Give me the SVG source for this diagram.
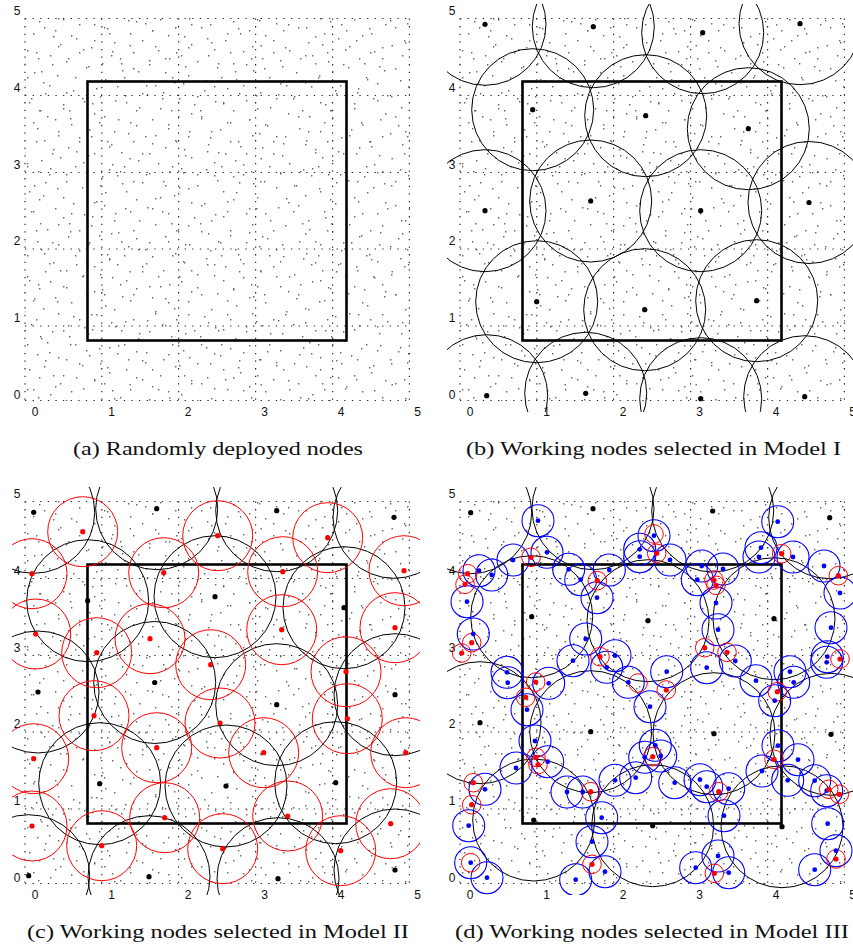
<svg xmlns="http://www.w3.org/2000/svg" xmlns:xlink="http://www.w3.org/1999/xlink" width="853" height="944" viewBox="0 0 853 944">
<style>
.g{fill:none;stroke:#222;stroke-width:1.2;stroke-dasharray:1.3 6.3}
.sq{fill:none;stroke:#000;stroke-width:2.6}
.t{font-family:"Liberation Sans",Arial,sans-serif;font-size:12px;fill:#111;text-anchor:middle}
.cap{font-family:"Liberation Serif","Times New Roman",serif;font-size:18.5px;fill:#111;text-anchor:middle}
.k circle{fill:none;stroke:#000;stroke-width:1}
.r circle{fill:none;stroke:#f00;stroke-width:1}
.b circle{fill:none;stroke:#00f;stroke-width:1.1}
.kd circle{fill:#000}
.rd circle{fill:#f00}
.bd circle{fill:#00f}
</style>
<defs>
<pattern id="pA" width="97" height="89" patternUnits="userSpaceOnUse">
<path fill="#666" d="M3 7h1.4v1.4h-1.4zM17 42h1.4v1.4h-1.4zM29 13h1.4v1.4h-1.4zM41 71h1.4v1.4h-1.4zM55 30h1.4v1.4h-1.4zM68 58h1.4v1.4h-1.4zM82 9h1.4v1.4h-1.4zM91 47h1.4v1.4h-1.4zM12 80h1.4v1.4h-1.4zM36 52h1.4v1.4h-1.4zM49 85h1.4v1.4h-1.4zM63 19h1.4v1.4h-1.4zM75 77h1.4v1.4h-1.4zM88 66h1.4v1.4h-1.4zM7 27h1.4v1.4h-1.4zM24 63h1.4v1.4h-1.4zM45 4h1.4v1.4h-1.4zM58 46h1.4v1.4h-1.4zM71 35h1.4v1.4h-1.4zM94 24h1.4v1.4h-1.4zM20 86h1.4v1.4h-1.4zM33 33h1.4v1.4h-1.4zM52 64h1.4v1.4h-1.4zM79 52h1.4v1.4h-1.4zM86 83h1.4v1.4h-1.4zM14 55h1.4v1.4h-1.4zM39 21h1.4v1.4h-1.4zM66 3h1.4v1.4h-1.4zM27 77h1.4v1.4h-1.4z"/>
</pattern>
<pattern id="pB" width="131" height="113" patternUnits="userSpaceOnUse">
<path fill="#666" d="M5 12h1.4v1.4h-1.4zM18 60h1.4v1.4h-1.4zM31 98h1.4v1.4h-1.4zM44 27h1.4v1.4h-1.4zM57 75h1.4v1.4h-1.4zM70 5h1.4v1.4h-1.4zM83 49h1.4v1.4h-1.4zM96 88h1.4v1.4h-1.4zM109 33h1.4v1.4h-1.4zM122 70h1.4v1.4h-1.4zM11 40h1.4v1.4h-1.4zM24 85h1.4v1.4h-1.4zM37 15h1.4v1.4h-1.4zM50 55h1.4v1.4h-1.4zM63 104h1.4v1.4h-1.4zM76 38h1.4v1.4h-1.4zM89 16h1.4v1.4h-1.4zM102 63h1.4v1.4h-1.4zM115 100h1.4v1.4h-1.4zM128 20h1.4v1.4h-1.4zM8 107h1.4v1.4h-1.4zM21 30h1.4v1.4h-1.4zM34 72h1.4v1.4h-1.4zM47 3h1.4v1.4h-1.4zM60 44h1.4v1.4h-1.4zM73 90h1.4v1.4h-1.4zM86 67h1.4v1.4h-1.4zM99 9h1.4v1.4h-1.4zM112 51h1.4v1.4h-1.4zM125 95h1.4v1.4h-1.4zM14 23h1.4v1.4h-1.4zM27 50h1.4v1.4h-1.4zM40 110h1.4v1.4h-1.4zM53 36h1.4v1.4h-1.4zM66 61h1.4v1.4h-1.4zM79 24h1.4v1.4h-1.4zM92 103h1.4v1.4h-1.4zM105 79h1.4v1.4h-1.4zM118 6h1.4v1.4h-1.4zM129.5 45h1.4v1.4h-1.4zM2 68h1.4v1.4h-1.4zM16 94h1.4v1.4h-1.4zM43 82h1.4v1.4h-1.4zM69 110h1.4v1.4h-1.4zM94 40h1.4v1.4h-1.4zM120 58h1.4v1.4h-1.4zM58 18h1.4v1.4h-1.4zM84 101h1.4v1.4h-1.4zM107 28h1.4v1.4h-1.4zM38 58h1.4v1.4h-1.4z"/>
</pattern>
<clipPath id="clip"><rect x="12" y="4" width="408" height="408"/></clipPath>
<g id="base">
<rect x="25" y="18" width="385" height="383" fill="url(#pA)"/>
<rect x="25" y="18" width="385" height="383" fill="url(#pB)"/>
<path class="g" d="M25 18.5V401M101.8 18.5V401M178.6 18.5V401M255.6 18.5V401M332.6 18.5V401M409.4 18.5V401M25 18.5H410M25 95.5H410M25 172.5H410M25 249H410M25 326H410M25 400.5H410"/>
<rect class="sq" x="87.5" y="81.5" width="259" height="259"/>
<text class="t" x="17" y="14.5">5</text>
<text class="t" x="17" y="92">4</text>
<text class="t" x="17" y="168.5">3</text>
<text class="t" x="17" y="245">2</text>
<text class="t" x="17" y="321.5">1</text>
<text class="t" x="17" y="398.5">0</text>
<text class="t" x="35" y="416">0</text>
<text class="t" x="111.5" y="416">1</text>
<text class="t" x="188" y="416">2</text>
<text class="t" x="264.5" y="416">3</text>
<text class="t" x="341" y="416">4</text>
<text class="t" x="417.5" y="416">5</text>
</g>
</defs>

<g id="panel-a">
<use href="#base"/>
</g>

<g id="panel-b" transform="translate(435,0)">
<use href="#base"/>
<g class="k" clip-path="url(#clip)">
<circle cx="50" cy="24.3" r="61"/><circle cx="158.3" cy="26.7" r="61"/><circle cx="267.7" cy="32.7" r="61"/><circle cx="365" cy="23.7" r="61"/>
<circle cx="97.7" cy="109.7" r="61"/><circle cx="210.7" cy="115.7" r="61"/><circle cx="313.3" cy="128.7" r="61"/>
<circle cx="155.7" cy="201" r="61"/><circle cx="374" cy="202.5" r="61"/><circle cx="50" cy="210.7" r="61"/><circle cx="265.7" cy="210.7" r="61"/>
<circle cx="101.7" cy="301.7" r="61"/><circle cx="209.7" cy="309.7" r="61"/><circle cx="321.7" cy="300.7" r="61"/>
<circle cx="51.7" cy="395.7" r="61"/><circle cx="150.7" cy="393.3" r="61"/><circle cx="265.7" cy="398.7" r="61"/><circle cx="369.7" cy="396.7" r="61"/>
</g>
<g class="kd">
<circle cx="50" cy="24.3" r="2.6"/><circle cx="158.3" cy="26.7" r="2.6"/><circle cx="267.7" cy="32.7" r="2.6"/><circle cx="365" cy="23.7" r="2.6"/>
<circle cx="97.7" cy="109.7" r="2.6"/><circle cx="210.7" cy="115.7" r="2.6"/><circle cx="313.3" cy="128.7" r="2.6"/>
<circle cx="155.7" cy="201" r="2.6"/><circle cx="374" cy="202.5" r="2.6"/><circle cx="50" cy="210.7" r="2.6"/><circle cx="265.7" cy="210.7" r="2.6"/>
<circle cx="101.7" cy="301.7" r="2.6"/><circle cx="209.7" cy="309.7" r="2.6"/><circle cx="321.7" cy="300.7" r="2.6"/>
<circle cx="51.7" cy="395.7" r="2.6"/><circle cx="150.7" cy="393.3" r="2.6"/><circle cx="265.7" cy="398.7" r="2.6"/><circle cx="369.7" cy="396.7" r="2.6"/>
</g>
</g>

<g id="panel-c" transform="translate(0,483)">
<use href="#base"/>
<g clip-path="url(#clip)">
<g class="k">
<circle cx="33.7" cy="29.3" r="61"/><circle cx="156.7" cy="25.7" r="61"/><circle cx="276.7" cy="27.7" r="61"/><circle cx="394" cy="34.3" r="61"/>
<circle cx="87.7" cy="117.7" r="61"/><circle cx="215" cy="113.7" r="61"/><circle cx="344" cy="124.7" r="61"/>
<circle cx="38" cy="209" r="61"/><circle cx="154.7" cy="199.5" r="61"/><circle cx="276.7" cy="221.7" r="61"/><circle cx="395" cy="211.7" r="61"/>
<circle cx="99.7" cy="300.7" r="61"/><circle cx="226" cy="303" r="61"/><circle cx="335.7" cy="299.7" r="61"/>
<circle cx="28.7" cy="392.7" r="61"/><circle cx="149" cy="393.7" r="61"/><circle cx="278" cy="395.7" r="61"/><circle cx="395" cy="387" r="61"/>
</g>
<g class="r">
<circle cx="82.7" cy="48.7" r="35"/><circle cx="217.7" cy="52.7" r="35"/><circle cx="327.7" cy="54.7" r="35"/>
<circle cx="32" cy="90.7" r="35"/><circle cx="163.7" cy="89.7" r="35"/><circle cx="282.7" cy="88.7" r="35"/><circle cx="404" cy="87.7" r="35"/>
<circle cx="35.7" cy="151" r="35"/><circle cx="150" cy="155.7" r="35"/><circle cx="281.7" cy="146.7" r="35"/><circle cx="395" cy="144.7" r="35"/>
<circle cx="96.7" cy="169.7" r="35"/><circle cx="210.7" cy="181.7" r="35"/><circle cx="346" cy="188.7" r="35"/>
<circle cx="94" cy="232.7" r="35"/><circle cx="220" cy="240" r="35"/><circle cx="347.3" cy="235.7" r="35"/>
<circle cx="33.7" cy="275.7" r="35"/><circle cx="156.7" cy="264.7" r="35"/><circle cx="263.7" cy="269.7" r="35"/><circle cx="405.7" cy="269.7" r="35"/>
<circle cx="32" cy="343" r="35"/><circle cx="164.7" cy="334.7" r="35"/><circle cx="287.7" cy="333" r="35"/><circle cx="390.7" cy="340.7" r="35"/>
<circle cx="101.7" cy="362.7" r="35"/><circle cx="222.7" cy="365.7" r="35"/><circle cx="340.7" cy="367.7" r="35"/>
</g>
</g>
<g class="kd">
<circle cx="33.7" cy="29.3" r="2.6"/><circle cx="156.7" cy="25.7" r="2.6"/><circle cx="276.7" cy="27.7" r="2.6"/><circle cx="394" cy="34.3" r="2.6"/>
<circle cx="87.7" cy="117.7" r="2.6"/><circle cx="215" cy="113.7" r="2.6"/><circle cx="344" cy="124.7" r="2.6"/>
<circle cx="38" cy="209" r="2.6"/><circle cx="154.7" cy="199.5" r="2.6"/><circle cx="276.7" cy="221.7" r="2.6"/><circle cx="395" cy="211.7" r="2.6"/>
<circle cx="99.7" cy="300.7" r="2.6"/><circle cx="226" cy="303" r="2.6"/><circle cx="335.7" cy="299.7" r="2.6"/>
<circle cx="28.7" cy="392.7" r="2.6"/><circle cx="149" cy="393.7" r="2.6"/><circle cx="278" cy="395.7" r="2.6"/><circle cx="395" cy="387" r="2.6"/>
</g>
<g class="rd">
<circle cx="82.7" cy="48.7" r="2.6"/><circle cx="217.7" cy="52.7" r="2.6"/><circle cx="327.7" cy="54.7" r="2.6"/>
<circle cx="32" cy="90.7" r="2.6"/><circle cx="163.7" cy="89.7" r="2.6"/><circle cx="282.7" cy="88.7" r="2.6"/><circle cx="404" cy="87.7" r="2.6"/>
<circle cx="35.7" cy="151" r="2.6"/><circle cx="150" cy="155.7" r="2.6"/><circle cx="281.7" cy="146.7" r="2.6"/><circle cx="395" cy="144.7" r="2.6"/>
<circle cx="96.7" cy="169.7" r="2.6"/><circle cx="210.7" cy="181.7" r="2.6"/><circle cx="346" cy="188.7" r="2.6"/>
<circle cx="94" cy="232.7" r="2.6"/><circle cx="220" cy="240" r="2.6"/><circle cx="347.3" cy="235.7" r="2.6"/>
<circle cx="33.7" cy="275.7" r="2.6"/><circle cx="156.7" cy="264.7" r="2.6"/><circle cx="263.7" cy="269.7" r="2.6"/><circle cx="405.7" cy="269.7" r="2.6"/>
<circle cx="32" cy="343" r="2.6"/><circle cx="164.7" cy="334.7" r="2.6"/><circle cx="287.7" cy="333" r="2.6"/><circle cx="390.7" cy="340.7" r="2.6"/>
<circle cx="101.7" cy="362.7" r="2.6"/><circle cx="222.7" cy="365.7" r="2.6"/><circle cx="340.7" cy="367.7" r="2.6"/>
</g>
</g>

<g id="panel-d" transform="translate(435,483)">
<use href="#base"/>
<g clip-path="url(#clip)">
<g class="k">
<circle cx="35.7" cy="29.7" r="61"/><circle cx="158" cy="25.7" r="61"/><circle cx="277.7" cy="28" r="61"/><circle cx="394.7" cy="34.7" r="61"/>
<circle cx="96.7" cy="133.7" r="61"/><circle cx="213" cy="137.7" r="61"/><circle cx="339" cy="135.7" r="61"/>
<circle cx="45" cy="239.7" r="61"/><circle cx="155.7" cy="248.7" r="61"/><circle cx="279" cy="250.7" r="61"/><circle cx="396" cy="251.3" r="61"/>
<circle cx="98.7" cy="337" r="61"/><circle cx="217.7" cy="342.7" r="61"/><circle cx="347" cy="343.7" r="61"/>
</g>
<g class="b">
<circle cx="103" cy="37.7" r="16"/><circle cx="112" cy="69.3" r="16"/><circle cx="78" cy="77" r="16"/><circle cx="56.7" cy="92" r="16"/><circle cx="44" cy="87.7" r="16"/><circle cx="32" cy="118.7" r="16"/><circle cx="38.3" cy="151" r="16"/><circle cx="72" cy="189.3" r="16"/><circle cx="72.7" cy="199.7" r="16"/><circle cx="113.7" cy="200.3" r="16"/><circle cx="133.7" cy="86.3" r="16"/><circle cx="145.7" cy="96.7" r="16"/><circle cx="162" cy="114.7" r="16"/><circle cx="174.3" cy="87" r="16"/><circle cx="204.7" cy="66.3" r="16"/><circle cx="204.7" cy="73.7" r="16"/><circle cx="150.7" cy="156" r="16"/><circle cx="138" cy="177.7" r="16"/><circle cx="180" cy="172.7" r="16"/><circle cx="171.7" cy="184.3" r="16"/><circle cx="193.3" cy="199.3" r="16"/>
<circle cx="219" cy="52.7" r="16"/><circle cx="235" cy="77" r="16"/><circle cx="266.7" cy="83" r="16"/><circle cx="288" cy="86" r="16"/><circle cx="262.3" cy="96.7" r="16"/><circle cx="281" cy="120" r="16"/><circle cx="283" cy="146.7" r="16"/><circle cx="300.3" cy="178" r="16"/><circle cx="271.7" cy="184.7" r="16"/><circle cx="231.7" cy="188.7" r="16"/><circle cx="342.7" cy="38.7" r="16"/><circle cx="326" cy="64.7" r="16"/><circle cx="324" cy="74" r="16"/><circle cx="358" cy="74" r="16"/><circle cx="389" cy="83" r="16"/><circle cx="405" cy="110" r="16"/><circle cx="396" cy="144.7" r="16"/><circle cx="392.3" cy="173.7" r="16"/><circle cx="391.7" cy="179.3" r="16"/><circle cx="355" cy="188.7" r="16"/><circle cx="358.7" cy="199.3" r="16"/><circle cx="321" cy="197.7" r="16"/>
<circle cx="92" cy="226.7" r="16"/><circle cx="100" cy="258" r="16"/><circle cx="112.7" cy="278.7" r="16"/><circle cx="81" cy="285" r="16"/><circle cx="50" cy="306.3" r="16"/><circle cx="33.7" cy="342.7" r="16"/><circle cx="35.7" cy="379.7" r="16"/><circle cx="52" cy="394.7" r="16"/><circle cx="132" cy="309" r="16"/><circle cx="147.7" cy="309" r="16"/><circle cx="166.7" cy="334.7" r="16"/><circle cx="157" cy="358.7" r="16"/><circle cx="170" cy="388.7" r="16"/><circle cx="140.7" cy="396.7" r="16"/><circle cx="180" cy="297.3" r="16"/><circle cx="200.7" cy="294.7" r="16"/>
<circle cx="215" cy="223.7" r="16"/><circle cx="339.7" cy="217.7" r="16"/><circle cx="220.3" cy="262.3" r="16"/><circle cx="209.7" cy="274.3" r="16"/><circle cx="225.7" cy="273" r="16"/><circle cx="239.7" cy="299.7" r="16"/><circle cx="265" cy="296.7" r="16"/><circle cx="271.7" cy="303.7" r="16"/><circle cx="293.7" cy="305.7" r="16"/><circle cx="289" cy="332.7" r="16"/><circle cx="283" cy="373" r="16"/><circle cx="260.7" cy="384.7" r="16"/><circle cx="293.7" cy="389.7" r="16"/><circle cx="343" cy="262.7" r="16"/><circle cx="363" cy="276.7" r="16"/><circle cx="327" cy="288" r="16"/><circle cx="352.7" cy="297.3" r="16"/><circle cx="379.7" cy="297.7" r="16"/><circle cx="391.7" cy="307.7" r="16"/><circle cx="392.7" cy="340.7" r="16"/><circle cx="401" cy="367.7" r="16"/><circle cx="379.7" cy="386.7" r="16"/>
</g>
<g class="r">
<circle cx="96" cy="74.3" r="9.3"/><circle cx="32.7" cy="90.7" r="9.3"/><circle cx="30" cy="101.3" r="9.3"/><circle cx="36.7" cy="159.7" r="9.3"/><circle cx="26.7" cy="170" r="9.3"/><circle cx="162.3" cy="97.7" r="9.3"/><circle cx="165" cy="173.7" r="9.3"/><circle cx="100.7" cy="199" r="9.3"/><circle cx="221.7" cy="70.3" r="9.3"/><circle cx="279" cy="97" r="9.3"/><circle cx="281" cy="102.3" r="9.3"/><circle cx="346.7" cy="70.7" r="9.3"/><circle cx="403.3" cy="92.7" r="9.3"/><circle cx="405" cy="176" r="9.3"/><circle cx="269.7" cy="164.7" r="9.3"/><circle cx="292" cy="169.3" r="9.3"/><circle cx="90.7" cy="214.3" r="9.3"/><circle cx="101" cy="274.3" r="9.3"/><circle cx="103" cy="281.7" r="9.3"/><circle cx="38.3" cy="299.7" r="9.3"/><circle cx="36.7" cy="321.7" r="9.3"/><circle cx="155.7" cy="308.7" r="9.3"/><circle cx="157" cy="381.3" r="9.3"/><circle cx="231.3" cy="207" r="9.3"/><circle cx="342.3" cy="208.7" r="9.3"/><circle cx="217.7" cy="273.7" r="9.3"/><circle cx="283.7" cy="308.7" r="9.3"/><circle cx="339" cy="276.3" r="9.3"/><circle cx="393.7" cy="306.3" r="9.3"/><circle cx="404.3" cy="311.3" r="9.3"/><circle cx="401" cy="376" r="9.3"/><circle cx="279.3" cy="390.3" r="9.3"/><circle cx="203" cy="200" r="9.3"/><circle cx="219" cy="51" r="9.3"/><circle cx="35.7" cy="379.7" r="9.3"/>
</g>
</g>
<g class="kd">
<circle cx="35.7" cy="29.7" r="2.6"/><circle cx="158" cy="25.7" r="2.6"/><circle cx="277.7" cy="28" r="2.6"/><circle cx="394.7" cy="34.7" r="2.6"/>
<circle cx="96.7" cy="133.7" r="2.6"/><circle cx="213" cy="137.7" r="2.6"/><circle cx="339" cy="135.7" r="2.6"/>
<circle cx="45" cy="239.7" r="2.6"/><circle cx="155.7" cy="248.7" r="2.6"/><circle cx="279" cy="250.7" r="2.6"/><circle cx="396" cy="251.3" r="2.6"/>
<circle cx="98.7" cy="337" r="2.6"/><circle cx="217.7" cy="342.7" r="2.6"/><circle cx="347" cy="343.7" r="2.6"/>
</g>
<g class="bd">
<circle cx="103" cy="37.7" r="2.4"/><circle cx="112" cy="69.3" r="2.4"/><circle cx="78" cy="77" r="2.4"/><circle cx="56.7" cy="92" r="2.4"/><circle cx="44" cy="87.7" r="2.4"/><circle cx="32" cy="118.7" r="2.4"/><circle cx="38.3" cy="151" r="2.4"/><circle cx="72" cy="189.3" r="2.4"/><circle cx="72.7" cy="199.7" r="2.4"/><circle cx="113.7" cy="200.3" r="2.4"/><circle cx="133.7" cy="86.3" r="2.4"/><circle cx="145.7" cy="96.7" r="2.4"/><circle cx="162" cy="114.7" r="2.4"/><circle cx="174.3" cy="87" r="2.4"/><circle cx="204.7" cy="66.3" r="2.4"/><circle cx="204.7" cy="73.7" r="2.4"/><circle cx="150.7" cy="156" r="2.4"/><circle cx="138" cy="177.7" r="2.4"/><circle cx="180" cy="172.7" r="2.4"/><circle cx="171.7" cy="184.3" r="2.4"/><circle cx="193.3" cy="199.3" r="2.4"/>
<circle cx="219" cy="52.7" r="2.4"/><circle cx="235" cy="77" r="2.4"/><circle cx="266.7" cy="83" r="2.4"/><circle cx="288" cy="86" r="2.4"/><circle cx="262.3" cy="96.7" r="2.4"/><circle cx="281" cy="120" r="2.4"/><circle cx="283" cy="146.7" r="2.4"/><circle cx="300.3" cy="178" r="2.4"/><circle cx="271.7" cy="184.7" r="2.4"/><circle cx="231.7" cy="188.7" r="2.4"/><circle cx="342.7" cy="38.7" r="2.4"/><circle cx="326" cy="64.7" r="2.4"/><circle cx="324" cy="74" r="2.4"/><circle cx="358" cy="74" r="2.4"/><circle cx="389" cy="83" r="2.4"/><circle cx="405" cy="110" r="2.4"/><circle cx="396" cy="144.7" r="2.4"/><circle cx="392.3" cy="173.7" r="2.4"/><circle cx="391.7" cy="179.3" r="2.4"/><circle cx="355" cy="188.7" r="2.4"/><circle cx="358.7" cy="199.3" r="2.4"/><circle cx="321" cy="197.7" r="2.4"/>
<circle cx="92" cy="226.7" r="2.4"/><circle cx="100" cy="258" r="2.4"/><circle cx="112.7" cy="278.7" r="2.4"/><circle cx="81" cy="285" r="2.4"/><circle cx="50" cy="306.3" r="2.4"/><circle cx="33.7" cy="342.7" r="2.4"/><circle cx="35.7" cy="379.7" r="2.4"/><circle cx="52" cy="394.7" r="2.4"/><circle cx="132" cy="309" r="2.4"/><circle cx="147.7" cy="309" r="2.4"/><circle cx="166.7" cy="334.7" r="2.4"/><circle cx="157" cy="358.7" r="2.4"/><circle cx="170" cy="388.7" r="2.4"/><circle cx="140.7" cy="396.7" r="2.4"/><circle cx="180" cy="297.3" r="2.4"/><circle cx="200.7" cy="294.7" r="2.4"/>
<circle cx="215" cy="223.7" r="2.4"/><circle cx="339.7" cy="217.7" r="2.4"/><circle cx="220.3" cy="262.3" r="2.4"/><circle cx="209.7" cy="274.3" r="2.4"/><circle cx="225.7" cy="273" r="2.4"/><circle cx="239.7" cy="299.7" r="2.4"/><circle cx="265" cy="296.7" r="2.4"/><circle cx="271.7" cy="303.7" r="2.4"/><circle cx="293.7" cy="305.7" r="2.4"/><circle cx="289" cy="332.7" r="2.4"/><circle cx="283" cy="373" r="2.4"/><circle cx="260.7" cy="384.7" r="2.4"/><circle cx="293.7" cy="389.7" r="2.4"/><circle cx="343" cy="262.7" r="2.4"/><circle cx="363" cy="276.7" r="2.4"/><circle cx="327" cy="288" r="2.4"/><circle cx="352.7" cy="297.3" r="2.4"/><circle cx="379.7" cy="297.7" r="2.4"/><circle cx="391.7" cy="307.7" r="2.4"/><circle cx="392.7" cy="340.7" r="2.4"/><circle cx="401" cy="367.7" r="2.4"/><circle cx="379.7" cy="386.7" r="2.4"/>
</g>
<g class="rd">
<circle cx="96" cy="74.3" r="2.6"/><circle cx="32.7" cy="90.7" r="2.6"/><circle cx="30" cy="101.3" r="2.6"/><circle cx="36.7" cy="159.7" r="2.6"/><circle cx="26.7" cy="170" r="2.6"/><circle cx="162.3" cy="97.7" r="2.6"/><circle cx="165" cy="173.7" r="2.6"/><circle cx="100.7" cy="199" r="2.6"/><circle cx="221.7" cy="70.3" r="2.6"/><circle cx="279" cy="97" r="2.6"/><circle cx="281" cy="102.3" r="2.6"/><circle cx="346.7" cy="70.7" r="2.6"/><circle cx="403.3" cy="92.7" r="2.6"/><circle cx="405" cy="176" r="2.6"/><circle cx="269.7" cy="164.7" r="2.6"/><circle cx="292" cy="169.3" r="2.6"/><circle cx="90.7" cy="214.3" r="2.6"/><circle cx="101" cy="274.3" r="2.6"/><circle cx="103" cy="281.7" r="2.6"/><circle cx="38.3" cy="299.7" r="2.6"/><circle cx="36.7" cy="321.7" r="2.6"/><circle cx="155.7" cy="308.7" r="2.6"/><circle cx="157" cy="381.3" r="2.6"/><circle cx="231.3" cy="207" r="2.6"/><circle cx="342.3" cy="208.7" r="2.6"/><circle cx="217.7" cy="273.7" r="2.6"/><circle cx="283.7" cy="308.7" r="2.6"/><circle cx="339" cy="276.3" r="2.6"/><circle cx="393.7" cy="306.3" r="2.6"/><circle cx="404.3" cy="311.3" r="2.6"/><circle cx="401" cy="376" r="2.6"/><circle cx="279.3" cy="390.3" r="2.6"/>
</g>
</g>

<g id="captions">
<text class="cap" x="218" y="455" textLength="290" lengthAdjust="spacingAndGlyphs">(a) Randomly deployed nodes</text>
<text class="cap" x="653.5" y="455" textLength="375" lengthAdjust="spacingAndGlyphs">(b) Working nodes selected in Model I</text>
<text class="cap" x="218" y="938" textLength="382" lengthAdjust="spacingAndGlyphs">(c) Working nodes selected in Model II</text>
<text class="cap" x="652" y="938" textLength="394" lengthAdjust="spacingAndGlyphs">(d) Working nodes selected in Model III</text>
</g>
</svg>
